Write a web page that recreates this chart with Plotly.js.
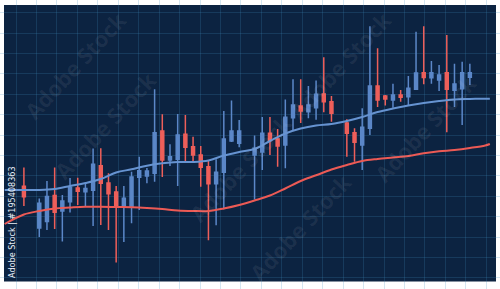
<!DOCTYPE html>
<html>
<head>
<meta charset="utf-8">
<script src="https://cdn.plot.ly/plotly-3.0.1.min.js"></script>
<style>
html,body{margin:0;padding:0;background:#ffffff;}
#chart{width:500px;height:289px;}
</style>
</head>
<body>
<div id="chart"></div>
<script>
// Session index (gaps = no trading)
const idx = [0,2,3,4,5,6,7,8,9,10,11,12,13,14,15,16,17,18,19,20,21,22,23,24,25,26,27,28,
  30,31,32,33,34,35,36,37,38,39,40,42,43,44,45,46,47,48,49,50,51,52,53,54,55,56,57,58];
const openV = [94.7,53,59.5,85.5,70,79.3,93,89.3,90.7,115.3,98,89,74,74,103.7,105,107.7,150,121,121.7,
  146.7,134.3,126,114.3,97.3,108.7,140,137.7,126,129,147.7,142,136,163.3,175,169.3,173.2,187,179.3,
  158,148.3,136,152.7,195,185,181,186,184.3,191.8,208.3,203.2,201,208.3,190.7,192.3,203.7];
const highV = [113.5,82.5,100,113.5,86,103,103.2,98,132.5,132.7,107.7,95,95,109.3,124.3,113,191.7,166.7,136.7,167,
  166,144.3,135,120.3,121.7,170,180.5,161,145.5,164,164,152,181.5,201.8,201.8,195,200.5,223.7,185,
  161.7,152.7,172.7,254.7,232.7,186,197.3,191,205,249.3,254.7,220,216,246,217.2,219.3,217.2];
const lowV = [75,44,51,52,39.5,68.5,76,74,55,56,51,18.5,39,57.7,71,97.7,99.3,104,115,95,
  118.3,118.3,94.3,40.7,55.7,71.7,139,133.7,81.5,111,126,114.3,112.7,151,158,162.7,161.3,168.8,159.3,
  124.3,119.3,111,146,174,175.5,173.2,179.3,175.5,191.3,196.8,197.3,190,148.8,174,156,196];
const closeV = [84.2,77.8,84.5,68.7,80,93.7,89.8,92.5,116.8,97.7,87.3,74,82.7,104,110.3,110,148.3,121,124.3,146,
  133.7,126,113.7,97.3,108.7,142,150,150,132.7,147.7,140.5,135,163.7,176,170,176,186.8,179.3,167.7,
  147.7,138.7,153.7,195,181,182,186,183.7,192.7,208,203.5,208.3,206,191.8,197,208.3,208.3];

// Moving averages
const maX = [-2.5,0,2,4,6,8,10,12,14,16,18,20,22,24,26,28,30,32,34,36,38,40,42,44,46,48,50,52,54,56,58,60,60.6];
const maFast = [91,91,91,92,95,98,102,108.5,111.7,115.3,117.7,119,119,120.5,125.5,129,132,140,147.5,152.5,155.5,157,
  160,164,169,172.5,175.5,178,180,181.5,182,182.3,182.3];
const maSlow = [57,66.5,70,72.5,73.5,74.3,74.3,74,73.7,73,72,70.5,70,70,72.5,76,80.5,85.5,92.5,100,105.7,111.5,
  116,120,122,123.5,125,127.7,129.7,131,133,135.5,137];

const sideText = 'Adobe Stock | #195408363';
const wmText = 'Adobe Stock';
const wmSpots = [[0.21,0.567],[0.48,0.42],[0.85,0.557],[0.68,0.775],[0.60,0.215],[0.15,0.775]];

const BLUE = '#5b87c8', RED = '#ee5f5a';

const traces = [
  {type:'scatter', mode:'lines', x:maX, y:maSlow, line:{color:'#ec5a55', width:2, shape:'spline'}, hoverinfo:'skip'},
  {type:'scatter', mode:'lines', x:maX, y:maFast, line:{color:'#6693d1', width:2, shape:'spline'}, hoverinfo:'skip'},
  {type:'candlestick', x:idx, open:openV, high:highV, low:lowV, close:closeV,
   increasing:{line:{color:BLUE, width:1.5}, fillcolor:BLUE},
   decreasing:{line:{color:RED, width:1.5}, fillcolor:RED},
   whiskerwidth:0, hoverinfo:'skip'}
];

const annotations = wmSpots.map(p => ({
  xref:'paper', yref:'paper', x:p[0], y:p[1], text:wmText, showarrow:false, textangle:-47,
  xanchor:'center', yanchor:'middle',
  font:{family:'Open Sans', size:22, weight:700, color:'rgba(255,255,255,0.07)'}
}));
annotations.push({
  xref:'paper', yref:'paper', x:0.024, y:0.232, text:sideText, showarrow:false, textangle:-90,
  xanchor:'center', yanchor:'middle',
  font:{family:'DejaVu Sans Condensed, Liberation Sans Narrow, sans-serif', size:9, color:'#e6edf5'}
});

const layout = {
  width:500, height:289,
  margin:{l:0,r:0,t:0,b:0,pad:0},
  paper_bgcolor:'#ffffff', plot_bgcolor:'rgba(0,0,0,0)',
  showlegend:false,
  boxgap:0.45,
  xaxis:{range:[-3.108,61.92], showgrid:true, gridcolor:'rgba(64,140,190,0.22)', gridwidth:1,
    tick0:-1.027, dtick:2.6596, tickmode:'linear', showticklabels:false, ticks:'', zeroline:false, showline:false,
    rangeslider:{visible:false}, fixedrange:true},
  yaxis:{range:[-8,281], showgrid:true, gridcolor:'rgba(64,140,190,0.22)', gridwidth:1,
    tick0:3.2, dtick:20.4, tickmode:'linear', showticklabels:false, ticks:'', zeroline:false, showline:false, fixedrange:true},
  shapes:[{type:'rect', xref:'paper', yref:'paper', x0:0.008, x1:0.992, y0:0.026, y1:0.9827,
    fillcolor:'#0c2341', line:{width:0}, layer:'below'}],
  annotations:annotations
};

Plotly.newPlot('chart', traces, layout, {staticPlot:true, displayModeBar:false});
</script>
</body>
</html>
